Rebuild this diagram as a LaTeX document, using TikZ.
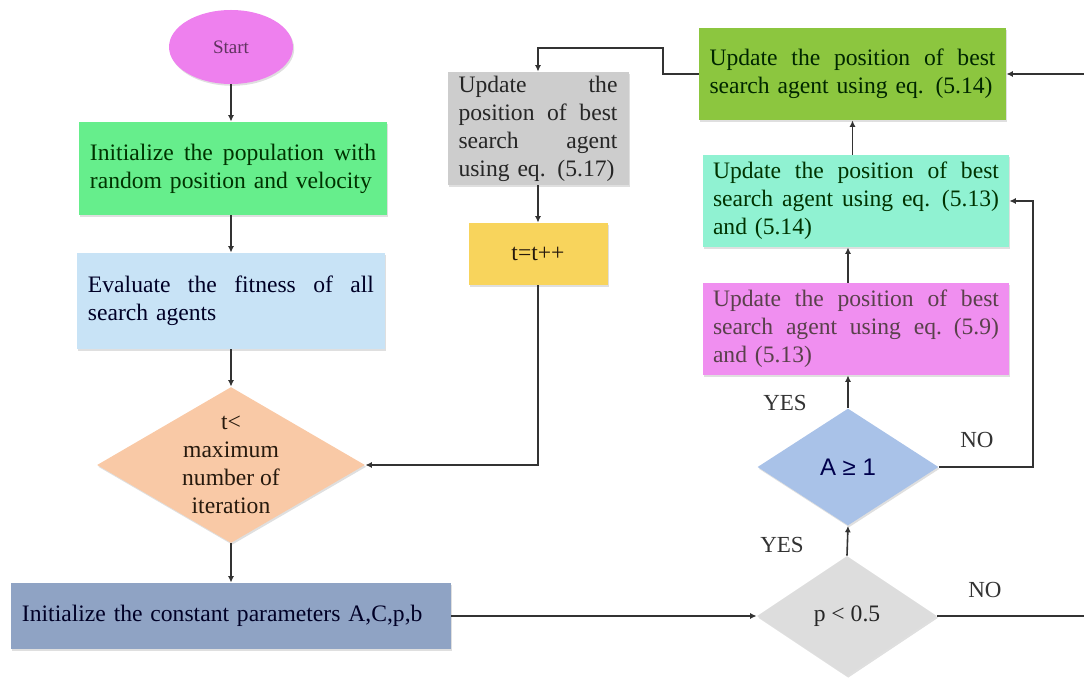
\documentclass[tikz,border=0pt]{standalone}
\usepackage{fontspec}
\setmainfont{Liberation Serif}
\newfontfamily\sansA{Liberation Sans}
\usetikzlibrary{shapes.geometric,arrows.meta,shadows}
\newcommand\fs{\fontsize{11.8}{14}\selectfont\hyphenpenalty=10000\exhyphenpenalty=10000}
\newcommand\jl[1]{\leavevmode\hbox to\hsize{\spaceskip=0.25em plus 3em minus 0.1em\relax #1}}
\definecolor{startc}{HTML}{EE80EE}
\definecolor{initc}{HTML}{66EE8C}
\definecolor{evalc}{HTML}{C8E3F6}
\definecolor{dtc}{HTML}{F9C9A6}
\definecolor{constc}{HTML}{8FA3C4}
\definecolor{pc}{HTML}{DDDDDD}
\definecolor{ac}{HTML}{A9C2E8}
\definecolor{magc}{HTML}{F08FF0}
\definecolor{tealc}{HTML}{90F2D2}
\definecolor{greenc}{HTML}{8CC63F}
\definecolor{grayc}{HTML}{CDCDCD}
\definecolor{yellc}{HTML}{F8D45C}
\definecolor{linec}{HTML}{333333}
\tikzset{
  shd/.style={drop shadow={opacity=0.25,shadow xshift=0.6pt,shadow yshift=-0.9pt}},
  box/.style={rectangle, draw=none, inner sep=0pt, font=\fs, shd},
  dia/.style={diamond, draw=none, inner sep=0pt, shd},
  dtext/.style={font=\fs, align=center, inner sep=0pt},
  conn/.style={draw=linec, line width=0.8pt},
  arr/.style={conn, -{Latex[length=3.2pt,width=3pt]}},
  yn/.style={font=\fontsize{11.5}{13}\selectfont, text=linec, inner sep=0pt}
}
\begin{document}
\begin{tikzpicture}[x=0.5pt,y=-0.5pt]
\useasboundingbox (0,0) rectangle (1084,678);
% left column
\node[ellipse, fill=startc, draw=none, shd, minimum width=62pt, minimum height=37pt, inner sep=0pt,
      font=\fontsize{9.5}{11}\selectfont, text=black!60!startc] (start) at (231,47) {Start};
\node[box, fill=initc, minimum width=154pt, minimum height=46.5pt, text width=143pt, align=left, text=black!80!green]
  (initpop) at (233,168.5) {\jl{Initialize the population with}\\random position and velocity};
\node[box, fill=evalc, minimum width=154pt, minimum height=48pt, text width=143pt, align=left, text=black!85!blue]
  (eval) at (231,301) {\jl{Evaluate the fitness of all}\\search agents};
\node[dia, fill=dtc, minimum width=134pt, minimum height=78pt] (d1) at (231,465) {};
\node[dtext, text=black!80!brown] (d1t) at (d1.center) {t<\\maximum\\number of\\iteration};
\node[box, fill=constc, minimum width=220pt, minimum height=33pt, text width=209pt, align=left, text=black!85!blue]
  (const) at (231,616) {Initialize the constant parameters A,C,p,b};
% middle column
\node[box, fill=grayc, minimum width=90.5pt, minimum height=56.5pt, text width=79.5pt, align=left, text=black!85]
  (gray) at (538,128.5) {\jl{Update the}\\\jl{position of best}\\\jl{search agent}\\using eq. (5.17)};
\node[box, fill=yellc, minimum width=69.5pt, minimum height=31pt, text=black!80!brown] (tpp) at (538,254) {t=t++};
% right column
\node[box, fill=greenc, minimum width=153.5pt, minimum height=46pt, text width=143pt, align=left, text=black!85!green]
  (green) at (852.5,74) {\jl{Update the position of best}\\search agent using eq. (5.14)};
\node[box, fill=tealc, minimum width=153pt, minimum height=46pt, text width=143pt, align=left, text=black!80!green]
  (teal) at (856,201) {\jl{Update the position of best}\\\jl{search agent using eq. (5.13)}\\and (5.14)};
\node[box, fill=magc, minimum width=153pt, minimum height=46pt, text width=143pt, align=left, text=black!75!magenta]
  (mag) at (856,329) {\jl{Update the position of best}\\\jl{search agent using eq. (5.9)}\\and (5.13)};
\node[dia, fill=ac, minimum width=90.5pt, minimum height=58.5pt] (A) at (848,467) {};
\node[dtext, font=\sansA\fontsize{12}{14}\selectfont, text=black!70!blue] (At) at (A.center) {A ≥ 1};
\node[dia, fill=pc, minimum width=90pt, minimum height=60pt] (P) at (847,616) {};
\node[dtext, text=black!85] (Pt) at (P.center) {p < 0.5};
% labels
\node[yn] (yes1) at (785,403) {YES};
\node[yn] (yes2) at (782,545) {YES};
\node[yn] (no1) at (977,440) {NO};
\node[yn] (no2) at (985,590) {NO};
% helper coordinates
\coordinate (k1) at (663,48);
\coordinate (kA) at (1033,201);
\coordinate (kP) at (1092,74);
% connectors
\draw[arr] (start.south) -- (start.south |- initpop.north);
\draw[arr] (initpop.south -| start.south) -- (start.south |- eval.north);
\draw[arr] (eval.south -| d1.north) -- (d1.north);
\draw[arr] (d1.south) -- (d1.south |- const.north);
\draw[arr] (const.east) -- (P.west);
\draw[arr] (P.north) -- (A.south);
\draw[arr] (A.north) -- (A.north |- mag.south);
\draw[arr] (mag.north -| A.north) -- (A.north |- teal.south);
\draw[arr] (teal.north -| green.south) -- (green.south);
\draw[arr] (green.west) -| (k1) -| (gray.north);
\draw[arr] (gray.south) -- (tpp.north);
\draw[arr] (tpp.south) |- (d1.east);
\draw[arr] (A.east) -| (kA) -- (teal.east);
\draw[arr] (P.east) -| (kP) -- (green.east);
\end{tikzpicture}
\end{document}
